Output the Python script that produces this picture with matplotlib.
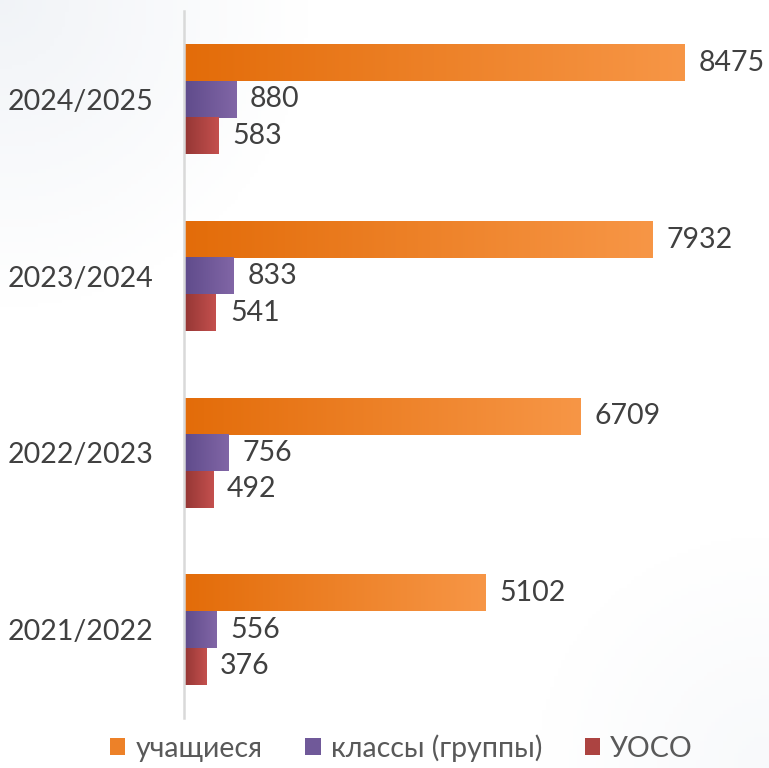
import numpy as np
import matplotlib
matplotlib.use("Agg")
import matplotlib.pyplot as plt
from matplotlib.patches import Patch
from matplotlib.colors import LinearSegmentedColormap

years = ["2021/2022", "2022/2023", "2023/2024", "2024/2025"]
students = [5102, 6709, 7932, 8475]
classes = [556, 756, 833, 880]
uoso = [376, 492, 541, 583]
series_names = ["учащиеся", "классы (группы)", "УОСО"]

plt.rcParams['font.family'] = ['Lato', 'DejaVu Sans']

fig = plt.figure(figsize=(7.69, 7.68), dpi=100)

# subtle background gradient
bg = fig.add_axes([0, 0, 1, 1], zorder=-10)
yy, xx = np.mgrid[0:1:200j, 0:1:200j]
d1 = np.clip(1 - np.sqrt((xx) ** 2 + (yy) ** 2) / 0.4, 0, 1)
d2 = np.clip(1 - np.sqrt((1 - xx) ** 2 + (1 - yy) ** 2) / 0.3, 0, 1)
val = 0.05 * d1 + 0.025 * d2
img = np.ones((200, 200, 3))
img[..., 0] -= val * 1.1
img[..., 1] -= val * 0.9
img[..., 2] -= val * 0.6
bg.imshow(img, extent=[0, 1, 0, 1], aspect='auto', origin='upper')
bg.axis('off')

ax = fig.add_axes([184 / 769, 1 - 718 / 768, (745 - 184) / 769, (718 - 11) / 768])
ax.patch.set_alpha(0)

y = np.arange(len(years))
h = 0.207
series = [
    (students, +h, "#E36C09", "#F79646"),
    (classes, 0.0, "#5F4B8B", "#8166A6"),
    (uoso, -h, "#943634", "#C4504E"),
]
xmax = 9490

handles = []
for (vals, off, c0, c1), name in zip(series, series_names):
    bars = ax.barh(y + off, vals, height=h, color=c1, edgecolor='none')
    cmap = LinearSegmentedColormap.from_list("g", [c0, c1])
    for b in bars:
        x0, y0, w, hh = b.get_x(), b.get_y(), b.get_width(), b.get_height()
        grad = np.linspace(0, 1, 256).reshape(1, -1)
        ax.imshow(grad, cmap=cmap, extent=[x0, x0 + w, y0, y0 + hh],
                  aspect='auto', zorder=2)
        ax.annotate(f"{int(w)}", xy=(x0 + w, y0 + hh / 2), xytext=(10, 0),
                    textcoords='offset points', ha='left', va='center',
                    fontsize=20.5, color='#404040')
    handles.append(Patch(facecolor=cmap(0.5), edgecolor='none', label=name))

ax.set_xlim(0, xmax)
ax.set_ylim(-0.5, len(years) - 0.5)
ax.set_yticks(y)
ax.set_yticklabels(years, fontsize=20.5, color='#404040')
ax.tick_params(axis='y', length=0, pad=22)
ax.set_xticks([])
for s in ['top', 'right', 'bottom']:
    ax.spines[s].set_visible(False)
ax.spines['left'].set_color('#D9D9D9')
ax.spines['left'].set_linewidth(1.8)

fig.legend(handles=handles, loc='center', bbox_to_anchor=(0.522, 0.026),
           ncol=3, frameon=False, fontsize=20.5, handlelength=0.55,
           handleheight=0.55, handletextpad=0.35, columnspacing=1.5,
           labelcolor='#595959')

fig.savefig("out.png", dpi=100)
